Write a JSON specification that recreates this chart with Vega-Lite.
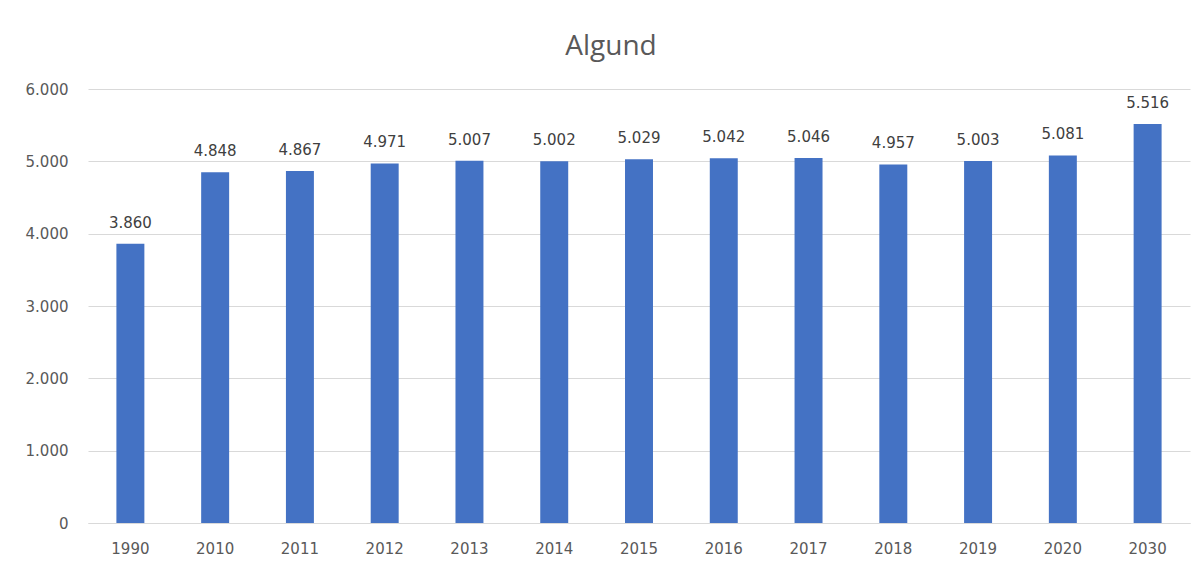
{
  "$schema": "https://vega.github.io/schema/vega-lite/v6.json",
  "width": 1102,
  "height": 434,
  "autosize": {"type": "none"},
  "padding": {"left": 88, "top": 89, "right": 11, "bottom": 39},
  "background": "white",
  "config": {
    "locale": {"number": {"decimal": ",", "thousands": ".", "grouping": [3], "currency": ["", " €"]}},
    "view": {"stroke": null},
    "font": "DejaVu Sans"
  },
  "title": {
    "text": "Algund",
    "fontSize": 28,
    "fontWeight": "normal",
    "color": "#595959",
    "font": "Open Sans",
    "offset": 21,
    "dx": -28
  },
  "data": {
    "values": [
      {"year": "1990", "value": 3860},
      {"year": "2010", "value": 4848},
      {"year": "2011", "value": 4867},
      {"year": "2012", "value": 4971},
      {"year": "2013", "value": 5007},
      {"year": "2014", "value": 5002},
      {"year": "2015", "value": 5029},
      {"year": "2016", "value": 5042},
      {"year": "2017", "value": 5046},
      {"year": "2018", "value": 4957},
      {"year": "2019", "value": 5003},
      {"year": "2020", "value": 5081},
      {"year": "2030", "value": 5516}
    ]
  },
  "encoding": {
    "x": {
      "field": "year",
      "type": "nominal",
      "sort": null,
      "scale": {"paddingInner": 0.67, "paddingOuter": 0.335},
      "axis": {
        "title": null,
        "labelAngle": 0,
        "labelColor": "#595959",
        "labelFont": "DejaVu Sans",
        "labelFontSize": 15,
        "labelBaseline": "alphabetic",
        "labelPadding": 30,
        "ticks": false,
        "domain": true,
        "domainColor": "#D9D9D9",
        "grid": false
      }
    },
    "y": {
      "field": "value",
      "type": "quantitative",
      "scale": {"domain": [0, 6000], "nice": false},
      "axis": {
        "title": null,
        "values": [0, 1000, 2000, 3000, 4000, 5000, 6000],
        "format": ",.0f",
        "labelColor": "#595959",
        "labelFont": "DejaVu Sans",
        "labelFontSize": 15,
        "labelPadding": 20,
        "ticks": false,
        "domain": false,
        "gridColor": "#D9D9D9"
      }
    }
  },
  "layer": [
    {"mark": {"type": "bar", "color": "#4472C4"}},
    {
      "mark": {"type": "text", "baseline": "alphabetic", "dy": -16, "fontSize": 15, "font": "DejaVu Sans", "color": "#404040"},
      "encoding": {"text": {"field": "value", "type": "quantitative", "format": ",.0f"}}
    }
  ]
}
